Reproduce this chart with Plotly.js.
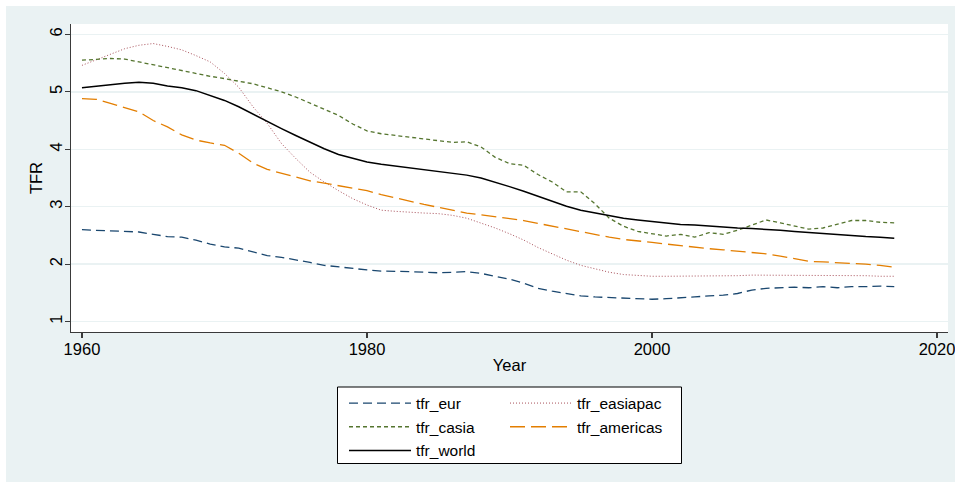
<!DOCTYPE html>
<html>
<head>
<meta charset="utf-8">
<script src="https://cdn.plot.ly/plotly-3.0.1.min.js"></script>
<style>html,body{margin:0;padding:0;background:#fff;}#chart{width:955px;height:482px;}</style>
</head>
<body>
<div id="chart"></div>
<script>
// ---- Data ----
const years = [1960,1961,1962,1963,1964,1965,1966,1967,1968,1969,1970,1971,1972,1973,1974,1975,1976,1977,1978,1979,
               1980,1981,1982,1983,1984,1985,1986,1987,1988,1989,1990,1991,1992,1993,1994,1995,1996,1997,1998,1999,
               2000,2001,2002,2003,2004,2005,2006,2007,2008,2009,2010,2011,2012,2013,2014,2015,2016,2017];

const tfr_eur = [2.60,2.59,2.58,2.57,2.56,2.52,2.48,2.47,2.42,2.35,2.30,2.28,2.21,2.15,2.12,2.08,2.03,1.98,1.95,1.93,
                 1.90,1.88,1.88,1.87,1.86,1.85,1.86,1.87,1.84,1.79,1.74,1.67,1.58,1.53,1.49,1.45,1.43,1.42,1.41,1.39,
                 1.39,1.40,1.41,1.43,1.45,1.46,1.49,1.55,1.58,1.59,1.60,1.59,1.61,1.59,1.61,1.61,1.62,1.61];

const tfr_easiapac = [5.46,5.56,5.66,5.75,5.81,5.84,5.79,5.73,5.63,5.52,5.32,5.08,4.74,4.45,4.10,3.84,3.60,3.43,3.28,3.14,
                      3.03,2.94,2.92,2.90,2.89,2.88,2.85,2.80,2.72,2.63,2.53,2.42,2.29,2.18,2.07,1.98,1.92,1.86,1.82,1.80,
                      1.79,1.79,1.79,1.79,1.79,1.80,1.80,1.81,1.81,1.81,1.81,1.81,1.81,1.80,1.80,1.80,1.79,1.79];

const tfr_casia = [5.55,5.57,5.58,5.57,5.52,5.47,5.41,5.36,5.31,5.27,5.23,5.19,5.14,5.07,5.00,4.91,4.80,4.70,4.59,4.44,
                   4.32,4.27,4.24,4.20,4.17,4.14,4.12,4.13,4.04,3.86,3.75,3.72,3.56,3.43,3.26,3.26,3.05,2.80,2.66,2.57,
                   2.53,2.49,2.52,2.47,2.55,2.52,2.59,2.68,2.77,2.72,2.66,2.61,2.63,2.69,2.76,2.76,2.73,2.72];

const tfr_americas = [4.88,4.87,4.80,4.73,4.65,4.50,4.39,4.25,4.16,4.11,4.07,3.93,3.76,3.65,3.58,3.51,3.45,3.41,3.37,3.32,
                      3.28,3.21,3.15,3.09,3.04,2.99,2.94,2.89,2.86,2.83,2.80,2.76,2.71,2.66,2.61,2.56,2.51,2.47,2.43,2.41,
                      2.38,2.35,2.32,2.29,2.27,2.25,2.23,2.21,2.18,2.14,2.09,2.05,2.04,2.03,2.01,2.00,1.98,1.945];

const tfr_world = [5.07,5.10,5.12,5.15,5.165,5.15,5.10,5.07,5.02,4.94,4.85,4.74,4.61,4.48,4.36,4.24,4.12,4.01,3.91,3.84,
                   3.78,3.74,3.71,3.68,3.65,3.62,3.59,3.55,3.50,3.43,3.35,3.27,3.18,3.09,3.01,2.94,2.89,2.84,2.80,2.77,
                   2.74,2.71,2.69,2.68,2.66,2.65,2.63,2.62,2.61,2.59,2.57,2.55,2.53,2.51,2.50,2.48,2.47,2.45];

const xTicks = [1960, 1980, 2000, 2020];
const yTicks = [1, 2, 3, 4, 5, 6];
const xTitle = "Year";
const yTitle = "TFR";

// ---- Styling ----
const FONT = "Liberation Sans, Arial, sans-serif";
const BG = "#EAF2F3";
const AXC = "#3a3a3a";

function line(name, y, color, dash, width, legend) {
  return {
    type: "scatter", mode: "lines", name: name, x: years, y: y,
    line: {color: color, dash: dash, width: width},
    legend: legend, legendgroup: name, hoverinfo: "x+y+name"
  };
}

const traces = [
  line("tfr_eur", tfr_eur, "#1A476F", "9px,5px", 1.3, "legend"),
  line("tfr_easiapac", tfr_easiapac, "#A8505A", "1px,2px", 1.0, "legend2"),
  line("tfr_casia", tfr_casia, "#55752F", "4px,3px", 1.3, "legend"),
  line("tfr_americas", tfr_americas, "#E37E00", "15px,6px", 1.3, "legend2"),
  line("tfr_world", tfr_world, "#000000", "solid", 1.5, "legend")
];

// pixel -> paper helpers (plot area: x 71..948, y 24..332)
const L = 71, R = 948, T = 24, B = 332;
const px = v => (v - L) / (R - L);
const py = v => (B - v) / (B - T);

const legendCommon = {
  bgcolor: "rgba(0,0,0,0)", borderwidth: 0,
  font: {family: FONT, size: 15.5, color: "#000"},
  traceorder: "grouped", tracegroupgap: 0.5,
  itemwidth: 62, xanchor: "left", yanchor: "top", orientation: "v",
  itemclick: false, itemdoubleclick: false
};

const layout = {
  width: 955, height: 482,
  margin: {l: L, r: 955 - R, t: T, b: 482 - B, pad: 0},
  paper_bgcolor: BG,
  plot_bgcolor: "#FFFFFF",
  font: {family: FONT, color: "#000"},
  showlegend: true,
  xaxis: {
    range: [1959.23, 2020.77], tickvals: xTicks, ticktext: xTicks.map(String),
    ticks: "outside", ticklen: 5, tickwidth: 1.2, tickcolor: AXC,
    showline: true, linecolor: AXC, linewidth: 1.2,
    showgrid: false, zeroline: false,
    tickfont: {family: FONT, size: 16.5, color: "#000"},
    ticklabelstandoff: -3, ticklabeloverflow: "allow",
    title: {text: xTitle, font: {family: FONT, size: 16.5, color: "#000"}, standoff: 2},
    automargin: false, fixedrange: true
  },
  yaxis: {
    range: [0.82, 6.18], tickvals: yTicks, ticktext: yTicks.map(String),
    ticks: "outside", ticklen: 5, tickwidth: 1.2, tickcolor: AXC, tickangle: -90,
    showline: true, linecolor: AXC, linewidth: 1.2,
    showgrid: true, gridcolor: BG, gridwidth: 1.5, zeroline: false,
    tickfont: {family: FONT, size: 16.5, color: "#000"},
    ticklabelstandoff: -4,
    title: {text: yTitle, font: {family: FONT, size: 16.5, color: "#000"}, standoff: 0},
    automargin: false, fixedrange: true
  },
  legend: Object.assign({}, legendCommon, {x: px(344), y: py(386.5)}),
  legend2: Object.assign({}, legendCommon, {x: px(505), y: py(386.5)}),
  shapes: [
    // white strips of the page outside the graph region
    {type: "rect", xref: "paper", yref: "paper", layer: "below",
     x0: px(0), x1: px(955), y0: py(6), y1: py(0), fillcolor: "#FFFFFF", line: {width: 0}},
    {type: "rect", xref: "paper", yref: "paper", layer: "below",
     x0: px(0), x1: px(6), y0: py(482), y1: py(0), fillcolor: "#FFFFFF", line: {width: 0}},
    // legend box
    {type: "rect", xref: "paper", yref: "paper", layer: "below",
     x0: px(337.5), x1: px(681.5), y0: py(463.5), y1: py(387), fillcolor: "#FFFFFF",
     line: {color: "#000", width: 1}}
  ]
};

Plotly.newPlot("chart", traces, layout, {displayModeBar: false, staticPlot: true});
</script>
</body>
</html>
